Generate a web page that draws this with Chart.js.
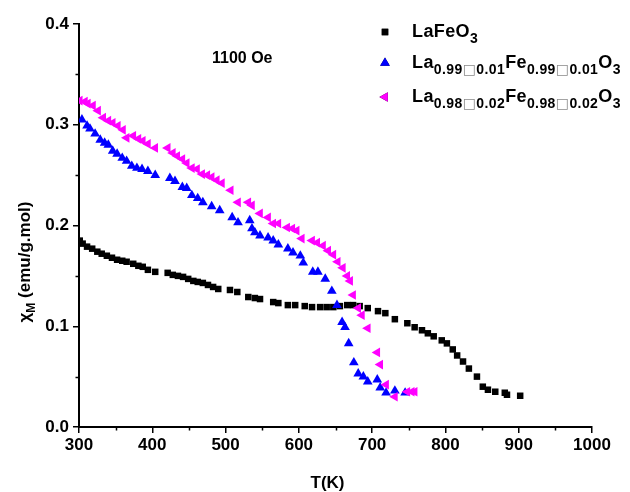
<!DOCTYPE html>
<html>
<head>
<meta charset="utf-8">
<script src="https://cdn.jsdelivr.net/npm/chart.js@4.4.1/dist/chart.umd.min.js"></script>
<style>
  html, body { margin: 0; padding: 0; background: #fff; }
  canvas { display: block; }
</style>
</head>
<body>
<canvas id="chart" width="630" height="492"></canvas>
<script>
// LaFeO3
const tempPure = [301, 305, 311, 318, 325, 331, 338, 345, 352, 359, 365, 374, 381, 387, 394, 404,
  421, 428, 435, 442, 449, 456, 462, 469, 476, 483, 490, 506, 516, 531, 540, 547, 565, 572, 585, 595,
  608, 618, 629, 638, 647, 656, 666, 674, 683, 694, 708, 718, 731, 748, 758, 768, 776, 784, 795, 802,
  810, 816, 824, 832, 843, 851, 858, 868, 881, 884, 902];
const chiPure = [0.185, 0.182, 0.179, 0.177, 0.174, 0.172, 0.170, 0.168, 0.166, 0.165, 0.164, 0.162,
  0.160, 0.159, 0.156, 0.154, 0.153, 0.151, 0.150, 0.149, 0.147, 0.145, 0.144, 0.143, 0.141, 0.139,
  0.137, 0.136, 0.134, 0.129, 0.128, 0.127, 0.124, 0.123, 0.121, 0.121, 0.120, 0.119, 0.119, 0.119,
  0.119, 0.120, 0.121, 0.121, 0.120, 0.118, 0.115, 0.113, 0.107, 0.103, 0.099, 0.096, 0.093, 0.090,
  0.086, 0.083, 0.077, 0.071, 0.065, 0.058, 0.050, 0.040, 0.037, 0.035, 0.034, 0.032, 0.031];

// La0.99 Fe0.99 O3
const tempVac1 = [304, 311, 315, 322, 329, 335, 340, 346, 352, 359, 365, 372, 379, 386, 394, 404,
  424, 431, 441, 447, 454, 462, 469, 481, 492, 509, 517, 533, 536, 540, 547, 558, 565, 572, 585, 592,
  602, 606, 619, 626, 636, 645, 652, 659, 663, 668, 675, 681, 688, 694, 707, 711, 719, 731, 745];
const chiVac1 = [0.305, 0.299, 0.296, 0.291, 0.285, 0.282, 0.280, 0.274, 0.271, 0.267, 0.264, 0.259,
  0.257, 0.256, 0.254, 0.250, 0.247, 0.244, 0.238, 0.237, 0.230, 0.227, 0.223, 0.219, 0.215, 0.208,
  0.203, 0.205, 0.197, 0.193, 0.190, 0.188, 0.185, 0.181, 0.177, 0.173, 0.170, 0.163, 0.154, 0.154,
  0.147, 0.135, 0.121, 0.104, 0.099, 0.083, 0.064, 0.053, 0.050, 0.045, 0.047, 0.039, 0.034, 0.036, 0.034];

// La0.98 Fe0.98 O3
const tempVac2 = [301, 308, 312, 319, 326, 333, 340, 346, 353, 360, 365, 374, 381, 387, 394, 404,
  421, 428, 434, 441, 447, 454, 461, 468, 475, 481, 488, 495, 507, 517, 531, 536, 547, 558, 565, 572,
  584, 591, 597, 604, 618, 625, 633, 640, 647, 653, 660, 666, 670, 674, 681, 686, 694, 707, 711, 719,
  731, 748, 754, 758];
const chiVac2 = [0.324, 0.323, 0.321, 0.319, 0.314, 0.307, 0.304, 0.302, 0.299, 0.295, 0.287, 0.289,
  0.286, 0.284, 0.281, 0.277, 0.277, 0.272, 0.269, 0.266, 0.262, 0.257, 0.256, 0.251, 0.250, 0.248,
  0.245, 0.242, 0.235, 0.223, 0.223, 0.220, 0.212, 0.208, 0.202, 0.202, 0.198, 0.197, 0.195, 0.187,
  0.185, 0.183, 0.180, 0.175, 0.171, 0.164, 0.158, 0.150, 0.145, 0.131, 0.118, 0.111, 0.098, 0.074,
  0.062, 0.042, 0.030, 0.035, 0.035, 0.035];

// legend text, "_{...}" marks a subscript
const legendLabels = ['LaFeO_{3}', 'La_{0.99\u25A10.01}Fe_{0.99\u25A10.01}O_{3}', 'La_{0.98\u25A10.02}Fe_{0.98\u25A10.02}O_{3}'];
const fieldNote = '1100 Oe';
const xTitle = 'T(K)';

const FONT = '"Liberation Sans", Arial, Helvetica, sans-serif';

const toPoints = (xs, ys) => xs.map((x, i) => ({ x: x, y: ys[i] }));

const datasets = [
  {
    label: legendLabels[0],
    data: toPoints(tempPure, chiPure),
    pointStyle: 'rect',
    pointRadius: 4.6,
    backgroundColor: '#000000',
    borderColor: '#000000',
    borderWidth: 0,
    order: 3,
  },
  {
    label: legendLabels[1],
    data: toPoints(tempVac1, chiVac1),
    pointStyle: 'triangle',
    pointRadius: 5.6,
    backgroundColor: '#0000ff',
    borderColor: '#0000ff',
    borderWidth: 0,
    order: 2,
  },
  {
    label: legendLabels[2],
    data: toPoints(tempVac2, chiVac2),
    pointStyle: 'triangle',
    rotation: -90,
    pointRadius: 5.6,
    backgroundColor: '#ff00ff',
    borderColor: '#ff00ff',
    borderWidth: 0,
    order: 1,
  },
];

// draws text with _{} subscripts
function drawRich(ctx, str, x, y, size, subSize) {
  const parts = str.split(/(_\{[^}]*\})/).filter(Boolean);
  parts.forEach((p) => {
    let sub = false;
    let t = p;
    if (p.startsWith('_{')) {
      sub = true;
      t = p.slice(2, -1);
    }
    const fs = sub ? subSize : size;
    const dy = sub ? size * 0.36 : 0;
    for (const ch of t) {
      if (ch === '\u25A1') {
        ctx.font = 'normal ' + fs + 'px "DejaVu Sans", sans-serif';
        ctx.fillStyle = '#8a8a8a';
      } else {
        ctx.font = 'bold ' + fs + 'px ' + FONT;
        ctx.fillStyle = '#000';
      }
      ctx.fillText(ch, x, y + dy);
      x += ctx.measureText(ch).width + 0.4;
    }
  });
  return x;
}

const extras = {
  id: 'extras',
  afterDraw(chart) {
    const ctx = chart.ctx;
    const xs = chart.scales.x;
    const ys = chart.scales.y;
    const area = chart.chartArea;
    ctx.save();

    // minor ticks
    ctx.strokeStyle = '#000';
    ctx.lineWidth = 1.5;
    ctx.beginPath();
    for (let v = 350; v < 1000; v += 100) {
      const px = Math.round(xs.getPixelForValue(v)) + 0.5;
      ctx.moveTo(px, area.bottom);
      ctx.lineTo(px, area.bottom + 3.5);
    }
    for (let v = 0.05; v < 0.4; v += 0.1) {
      const py = Math.round(ys.getPixelForValue(v)) + 0.5;
      ctx.moveTo(area.left, py);
      ctx.lineTo(area.left - 3.5, py);
    }
    ctx.stroke();

    ctx.textBaseline = 'alphabetic';
    ctx.textAlign = 'left';

    // field note
    ctx.fillStyle = '#000';
    ctx.font = 'bold 16px ' + FONT;
    ctx.fillText(fieldNote, 212, 63);

    // x title
    ctx.font = 'bold 17px ' + FONT;
    ctx.textAlign = 'center';
    ctx.fillText(xTitle, (area.left + area.right) / 2 - 8, 488);
    ctx.textAlign = 'left';

    // y title, rotated
    ctx.save();
    ctx.translate(30, 262);
    ctx.rotate(-Math.PI / 2);
    ctx.font = 'bold 17px ' + FONT;
    const chiW = ctx.measureText('\u03C7').width;
    ctx.font = 'bold 12px ' + FONT;
    const mW = ctx.measureText('M').width;
    ctx.font = 'bold 17px ' + FONT;
    const restW = ctx.measureText(' (emu/g.mol)').width;
    let tx = -(chiW + mW + restW) / 2;
    ctx.fillText('\u03C7', tx, 0);
    tx += chiW;
    ctx.font = 'bold 12px ' + FONT;
    ctx.fillText('M', tx, 5);
    tx += mW;
    ctx.font = 'bold 17px ' + FONT;
    ctx.fillText(' (emu/g.mol)', tx, 0);
    ctx.restore();

    // legend
    const rows = [37, 68, 102];
    const marks = [32, 63, 97];
    chart.data.datasets.forEach((ds, i) => {
      Chart.helpers.drawPoint(ctx, {
        pointStyle: ds.pointStyle,
        rotation: ds.rotation || 0,
        radius: ds.pointRadius,
        borderWidth: 0,
      }, 385, marks[i]);
      ctx.fillStyle = ds.backgroundColor;
      ctx.fill();
      drawRich(ctx, ds.label, 412, rows[i], 18, 14);
    });

    ctx.restore();
  },
};

const axisCommon = {
  grid: {
    display: true,
    drawOnChartArea: false,
    drawTicks: true,
    tickLength: 6,
    color: '#000',
    lineWidth: 1.5,
  },
  border: { display: true, color: '#000', width: 2 },
};

new Chart(document.getElementById('chart'), {
  type: 'scatter',
  data: { datasets: datasets },
  options: {
    responsive: false,
    animation: false,
    layout: { padding: { left: 0, right: 38, top: 24, bottom: 0 } },
    plugins: {
      legend: { display: false },
      tooltip: { enabled: false },
    },
    scales: {
      x: {
        ...axisCommon,
        type: 'linear',
        min: 300,
        max: 1000,
        ticks: {
          stepSize: 100,
          color: '#000',
          padding: 2,
          maxRotation: 0,
          font: { family: FONT, size: 17, weight: 'bold' },
          callback: (v) => String(v),
        },
        afterFit(scale) { scale.height = 65; },
      },
      y: {
        ...axisCommon,
        min: 0,
        max: 0.4,
        ticks: {
          stepSize: 0.1,
          color: '#000',
          padding: 4,
          font: { family: FONT, size: 17, weight: 'bold' },
          callback: (v) => v.toFixed(1),
        },
        afterFit(scale) { scale.width = 79; },
      },
    },
  },
  plugins: [extras],
});
</script>
</body>
</html>
